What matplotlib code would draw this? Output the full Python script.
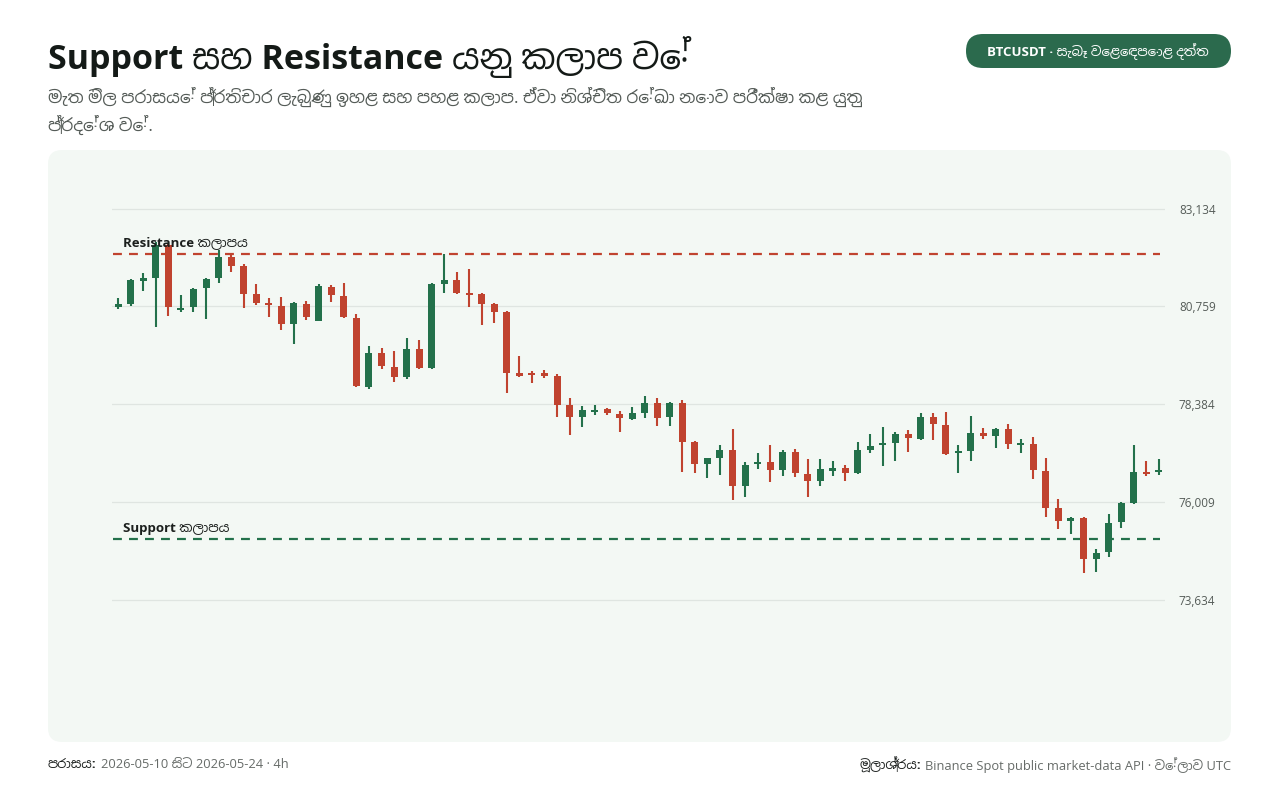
import matplotlib
matplotlib.use('Agg')
import matplotlib.pyplot as plt
from matplotlib import font_manager
from matplotlib.patches import FancyBboxPatch, Rectangle

# BTCUSDT 4h candles, 2026-05-10 .. 2026-05-24
opens = [80745, 80818, 81377, 81450, 82252, 80672, 80745, 81207, 81450, 81960,
         81741, 81061, 80842, 80769, 80332, 80818, 80405, 81231, 81012, 80478,
         78801, 79627, 79287, 79044, 79724, 79263, 81304, 81401, 81085, 81061,
         80818, 80623, 79141, 79141, 79130, 79068, 78364, 78072, 78193, 78266,
         78145, 78023, 78169, 78412, 78072, 78412, 77465, 76930, 77076, 77270,
         76395, 76930, 76978, 76784, 77221, 76687, 76517, 76760, 76833, 76711,
         77270, 77392, 77440, 77659, 77537, 78072, 77877, 77197, 77246, 77683,
         77610, 77780, 77392, 77416, 76760, 75861, 75545, 75618, 74621, 74791,
         75520, 75982, 76736, 76736]
closes = [80818, 81401, 81450, 82252, 80745, 80721, 81182, 81425, 81960, 81741,
          81061, 80842, 80794, 80332, 80842, 80502, 81255, 81037, 80502, 78825,
          79627, 79311, 79044, 79724, 79263, 81304, 81401, 81085, 81050, 80818,
          80623, 79141, 79068, 79092, 79068, 78364, 78072, 78242, 78242, 78169,
          78048, 78169, 78412, 78048, 78412, 77465, 76930, 77076, 77270, 76395,
          76906, 76978, 76784, 77221, 76711, 76517, 76808, 76833, 76711, 77270,
          77367, 77440, 77659, 77562, 78072, 77902, 77173, 77246, 77683, 77610,
          77780, 77416, 77440, 76784, 75861, 75545, 75618, 74621, 74767, 75496,
          75982, 76736, 76700, 76784]
highs = [80964, 81425, 81571, 82324, 82300, 81037, 81207, 81450, 82130, 82057,
         81790, 81304, 80964, 80988, 80866, 80891, 81304, 81280, 81328, 80575,
         79797, 79749, 79676, 79992, 79943, 81328, 82033, 81596, 81668, 81085,
         80842, 80648, 79554, 79190, 79214, 79117, 78534, 78339, 78364, 78291,
         78218, 78315, 78583, 78534, 78437, 78485, 77480, 77076, 77392, 77780,
         76978, 77197, 77392, 77270, 77294, 77051, 77051, 77003, 76906, 77465,
         77659, 77829, 77708, 77756, 78169, 78169, 78193, 77392, 78096, 77805,
         77805, 77902, 77537, 77586, 77076, 76079, 75642, 75642, 74864, 75715,
         76006, 77392, 77003, 77051]
lows = [80696, 80769, 81134, 80259, 80526, 80623, 80623, 80453, 81328, 81596,
        80721, 80794, 80502, 80186, 79846, 80429, 80405, 80866, 80478, 78801,
        78752, 79238, 78922, 78995, 79238, 79238, 81085, 81061, 80745, 80308,
        80356, 78655, 79044, 78898, 79020, 78072, 77635, 77829, 78121, 78121,
        77708, 77999, 78048, 77853, 77853, 76736, 76711, 76590, 76663, 76055,
        76128, 76808, 76492, 76638, 76614, 76128, 76395, 76638, 76517, 76687,
        77197, 76881, 77003, 77221, 77513, 77513, 77149, 76711, 77003, 77537,
        77319, 77294, 77197, 76565, 75642, 75350, 75229, 74281, 74305, 74670,
        75375, 75958, 76638, 76663]

resistance_level = 82033
support_level = 75100
y_ticks = [73634, 76009, 78384, 80759, 83134]
y_range = (70466, 84317)

title = "Support සහ Resistance යනු කලාප වේ"
subtitle = ("මැත මිල පරාසයේ ප්‍රතිචාර ලැබුණු ඉහළ සහ පහළ කලාප. ඒවා නිශ්චිත රේඛා නොව පරීක්ෂා කළ යුතු\n"
            "ප්‍රදේශ වේ.")
badge = "BTCUSDT · සැබෑ වෙළෙඳපොළ දත්ත"
resistance_label = "Resistance කලාපය"
support_label = "Support කලාපය"
footer_left = ("පරාසය:", "2026-05-10 සිට 2026-05-24 · 4h")
footer_right = ("මූලාශ්‍රය:", "Binance Spot public market-data API · වේලාව UTC")

GREEN = '#23714b'
RED = '#c0432f'
BADGE = '#2b6a4d'
PANEL = '#f3f8f4'

# pick a Latin family that really has a bold face, then the Sinhala family as fallback
fonts = font_manager.fontManager.ttflist
def has_bold(name):
    return any(f.name == name and (f.weight == 'bold' or (isinstance(f.weight, int) and f.weight >= 600))
               for f in fonts)
latin = [n for n in ['Noto Sans', 'Open Sans', 'Lato', 'Roboto', 'Inter', 'DejaVu Sans'] if has_bold(n)][:1]
names = sorted({f.name for f in fonts})
sinhala = sorted([n for n in names if 'Sinhala' in n or 'Iskoola' in n], key=lambda n: not has_bold(n))
FAMILY = latin + sinhala + ['DejaVu Sans']
plt.rcParams['font.family'] = FAMILY

W, H = 1280, 800
fig = plt.figure(figsize=(W / 100, H / 100), dpi=100)
fig.patch.set_facecolor('white')

# background layer in pixel coordinates
bg = fig.add_axes([0, 0, 1, 1])
bg.set_xlim(0, W)
bg.set_ylim(H, 0)
bg.axis('off')
bg.add_patch(FancyBboxPatch((48, 150), 1183, 592, boxstyle='round,pad=0,rounding_size=14',
                            facecolor=PANEL, edgecolor='none'))
bg.add_patch(FancyBboxPatch((966, 34), 265, 34, boxstyle='round,pad=0,rounding_size=17',
                            facecolor=BADGE, edgecolor='none'))

bg.text(48, 57, title, fontsize=24.5, fontweight='bold', color='#141a17', va='center', ha='left')
bg.text(48, 111, subtitle, fontsize=12.2, color='#555c58', va='center', ha='left', linespacing=1.45)
bg.text(1098, 52, badge, fontsize=9.5, fontweight='bold', color='white', va='center', ha='center')

# footer: bold label followed by regular text
fig.canvas.draw()
r = fig.canvas.get_renderer()
inv = bg.transData.inverted()
t = bg.text(48, 765, footer_left[0], fontsize=9.3, fontweight='bold', color='#1b1f1d', va='center')
x1 = inv.transform((t.get_window_extent(r).x1, 0))[0]
bg.text(x1 + 4, 765, footer_left[1], fontsize=9.3, color='#666b68', va='center')
t = bg.text(1231, 765, footer_right[1], fontsize=9.3, color='#666b68', va='center', ha='right')
x0 = inv.transform((t.get_window_extent(r).x0, 0))[0]
bg.text(x0 - 4, 765, footer_right[0], fontsize=9.3, fontweight='bold', color='#1b1f1d', va='center', ha='right')

# price chart
ax = fig.add_axes([112 / W, 1 - 730 / H, (1165 - 112) / W, 570 / H])
ax.set_facecolor('none')
n = len(opens)
ax.set_xlim(-0.5, n - 0.5)
ax.set_ylim(*y_range)
for s in ax.spines.values():
    s.set_visible(False)
ax.set_xticks([])
ax.yaxis.tick_right()
ax.set_yticks(y_ticks)
ax.set_yticklabels([f"{v:,}" for v in y_ticks])
ax.tick_params(axis='y', length=0, pad=10, labelsize=8.5, labelcolor='#555c58')
ax.grid(axis='y', color='#dfe5e1', linewidth=0.9)
ax.set_axisbelow(True)

body_w = 0.56
min_body = 40
for i in range(n):
    o, c, h, l = opens[i], closes[i], highs[i], lows[i]
    col = GREEN if c >= o else RED
    ax.vlines(i, l, h, color=col, linewidth=1.5, zorder=3)
    lo = min(o, c)
    hgt = max(abs(c - o), min_body)
    if abs(c - o) < min_body:
        lo = (o + c) / 2 - min_body / 2
    ax.add_patch(Rectangle((i - body_w / 2, lo), body_w, hgt, facecolor=col, edgecolor='none', zorder=4))

ax.hlines(resistance_level, -0.45, n - 0.9, colors=RED, linestyles=(0, (4, 3.2)), linewidth=1.6, zorder=2)
ax.hlines(support_level, -0.45, n - 0.9, colors=GREEN, linestyles=(0, (4, 3.2)), linewidth=1.6, zorder=2)
ax.text(0.4, resistance_level + 120, resistance_label, fontsize=9.5, fontweight='bold',
        color='#1b1f1d', va='bottom', ha='left', zorder=5)
ax.text(0.4, support_level + 100, support_label, fontsize=9.5, fontweight='bold',
        color='#1b1f1d', va='bottom', ha='left', zorder=5)

fig.savefig('out.png', dpi=100)
